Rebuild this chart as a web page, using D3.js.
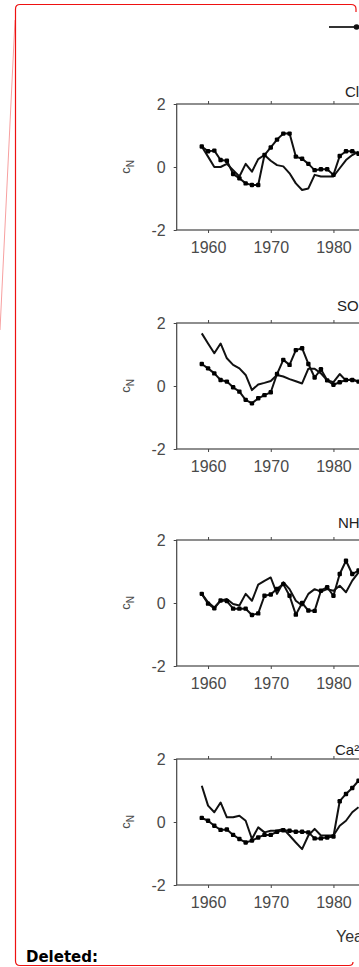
<!DOCTYPE html>
<html><head><meta charset="utf-8">
<script src="https://cdn.jsdelivr.net/npm/d3@7"></script>
<style>html,body{margin:0;padding:0;background:#fff;overflow:hidden}</style>
</head><body>
<script>
const years = [1959,1960,1961,1962,1963,1964,1965,1966,1967,1968,1969,1970,1971,1972,1973,1974,1975,1976,1977,1978,1979,1980,1981,1982,1983,1984];
const panelTitles = ["Cl\u207B", "SO\u2084\u00B2\u207B", "NH\u2084\u207A", "Ca\u00B2\u207A"];
const xTicks = [1960,1970,1980];
const yTicks = [-2,0,2];
const clMarked  = [0.65,0.5,0.52,0.22,0.2,-0.22,-0.36,-0.52,-0.57,-0.57,0.38,0.62,0.87,1.06,1.06,0.33,0.26,0.1,-0.1,-0.07,-0.07,-0.25,0.35,0.5,0.5,0.42];
const clLine    = [0.65,0.33,0.0,0.0,0.1,-0.1,-0.3,0.1,-0.15,0.25,0.38,0.2,0.06,0.02,-0.2,-0.52,-0.73,-0.68,-0.25,-0.3,-0.3,-0.3,-0.04,0.22,0.38,0.49];
const so4Marked = [0.7,0.56,0.4,0.19,0.14,-0.04,-0.18,-0.44,-0.55,-0.39,-0.29,-0.2,0.38,0.83,0.67,1.14,1.2,0.7,0.27,0.53,0.18,0.04,0.12,0.19,0.19,0.14];
const so4Line   = [1.67,1.35,1.04,1.35,0.88,0.67,0.56,0.35,-0.13,0.05,0.1,0.16,0.35,0.3,0.22,0.15,0.08,0.55,0.55,0.4,0.18,0.12,0.38,0.17,0.22,0.14];
const nh4Marked = [0.29,-0.02,-0.17,0.08,0.06,-0.18,-0.18,-0.18,-0.38,-0.33,0.23,0.27,0.45,0.6,0.23,-0.37,0.0,-0.24,-0.25,0.39,0.5,0.23,0.92,1.34,0.92,1.03];
const nh4Line   = [0.29,0.02,-0.14,0.07,0.13,-0.03,-0.08,0.29,0.07,0.58,0.7,0.81,0.29,0.66,0.44,0.07,-0.08,0.29,0.44,0.36,0.44,0.39,0.55,0.34,0.71,0.97];
const caMarked  = [0.13,0.04,-0.12,-0.25,-0.24,-0.41,-0.54,-0.65,-0.59,-0.49,-0.41,-0.41,-0.31,-0.26,-0.28,-0.31,-0.31,-0.33,-0.52,-0.52,-0.49,-0.46,0.66,0.89,1.08,1.31];
const caLine    = [1.15,0.52,0.31,0.62,0.15,0.15,0.2,0.04,-0.54,-0.17,-0.33,-0.28,-0.28,-0.22,-0.43,-0.65,-0.86,-0.43,-0.22,-0.43,-0.43,-0.43,-0.12,0.04,0.31,0.47];

const panels = [
  {title: panelTitles[0], marked: clMarked, line: clLine, top: 104, titleY: 97, titleX: 345},
  {title: panelTitles[1], marked: so4Marked, line: so4Line, top: 323, titleY: 311, titleX: 337},
  {title: panelTitles[2], marked: nh4Marked, line: nh4Line, top: 540, titleY: 528, titleX: 338},
  {title: panelTitles[3], marked: caMarked, line: caLine, top: 759, titleY: 755, titleX: 335}
];

const W = 359, H = 967;
const svg = d3.select("body").append("svg").attr("width", W).attr("height", H)
  .style("font-family", "'Liberation Sans', Arial, sans-serif");

// document comment frame
const red = "#ee1111";
svg.append("line").attr("x1", 15).attr("y1", 20).attr("x2", 0).attr("y2", 330)
  .attr("stroke", "#f7a0a0").attr("stroke-width", 1);
svg.append("path")
  .attr("d", "M356,12 L356,9 Q356,4.5 351,4.5 L20,4.5 Q15.5,4.5 15.5,9 L15.5,961 Q15.5,965.5 20,965.5 L349,965.5 Q353,965.5 353,962")
  .attr("fill", "none").attr("stroke", red).attr("stroke-width", 1.2);
svg.append("text").attr("x", 26).attr("y", 962).text("Deleted:")
  .style("font-family", "'DejaVu Sans', Verdana, sans-serif").style("font-weight", "bold")
  .style("font-size", "15px").attr("fill", "#000");

const x = d3.scaleLinear().domain([1955, 2015]).range([176.7, 176.7 + 60 * 6.27]);
const axisColor = "#444", textColor = "#4a4a4a", lineColor = "#111";

// legend
const lg = svg.append("g");
lg.append("line").attr("x1", 329).attr("x2", 380).attr("y1", 27).attr("y2", 27)
  .attr("stroke", "#333").attr("stroke-width", 1.8);
lg.append("circle").attr("cx", 356.5).attr("cy", 27).attr("r", 2.8).attr("fill", "#111");

panels.forEach((p, i) => {
  const h = 126;
  const y = d3.scaleLinear().domain([-2, 2]).range([p.top + h, p.top]);
  const g = svg.append("g");
  const x0 = x.range()[0], x1 = x.range()[1];
  // box
  g.append("rect").attr("x", x0).attr("y", p.top).attr("width", x1 - x0).attr("height", h)
    .attr("fill", "none").attr("stroke", axisColor).attr("stroke-width", 1.2);
  // axes
  const ax = g.append("g").attr("transform", `translate(0,${p.top + h})`)
    .call(d3.axisBottom(x).tickValues(xTicks).tickFormat(d3.format("d")).tickSize(3).tickSizeOuter(0).tickPadding(9));
  const axTop = g.append("g").attr("transform", `translate(0,${p.top})`)
    .call(d3.axisTop(x).tickValues(xTicks).tickFormat("").tickSize(3).tickSizeOuter(0));
  const ay = g.append("g").attr("transform", `translate(${x0},0)`)
    .call(d3.axisLeft(y).tickValues(yTicks).tickFormat(d => d < 0 ? "-" + Math.abs(d) : d).tickSize(3).tickSizeOuter(0).tickPadding(8));
  [ax, axTop, ay].forEach(a => {
    a.select(".domain").remove();
    a.selectAll(".tick line").attr("stroke", axisColor);
    a.selectAll(".tick text").attr("fill", textColor).style("font-size", "16px")
      .style("font-family", "'Liberation Sans', Arial, sans-serif");
  });
  // y label
  const yl = g.append("text").attr("transform", `translate(130,${y(0)}) rotate(-90)`)
    .attr("text-anchor", "middle").attr("fill", textColor).style("font-size", "13px");
  yl.append("tspan").text("c");
  yl.append("tspan").attr("dy", 4).style("font-size", "10px").text("N");
  // title
  g.append("text").attr("x", p.titleX).attr("y", p.titleY).attr("fill", "#222")
    .style("font-size", "15px").text(p.title);
  // series
  const line = d3.line().x((d, j) => x(years[j])).y(d => y(d));
  g.append("path").datum(p.line).attr("d", line).attr("fill", "none")
    .attr("stroke", lineColor).attr("stroke-width", 2).attr("stroke-linejoin", "round");
  g.append("path").datum(p.marked).attr("d", line).attr("fill", "none")
    .attr("stroke", lineColor).attr("stroke-width", 2).attr("stroke-linejoin", "round");
  g.selectAll("rect.m").data(p.marked).enter().append("rect").attr("class", "m")
    .attr("x", (d, j) => x(years[j]) - 2.2).attr("y", d => y(d) - 2.2)
    .attr("width", 4.4).attr("height", 4.4).attr("rx", 1.2).attr("fill", "#000");
});

svg.append("text").attr("x", 336).attr("y", 942).attr("fill", "#333").style("font-size", "16px").text("Year");
</script>
</body></html>
